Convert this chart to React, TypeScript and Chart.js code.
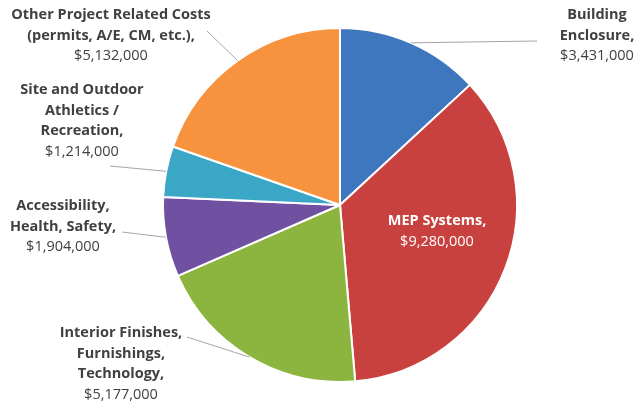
import React, { useEffect, useRef } from "react";
import { Chart, registerables } from "chart.js";

Chart.register(...registerables);

const categories: string[][] = [
  ["Building", "Enclosure,"],
  ["MEP Systems,"],
  ["Interior Finishes,", "Furnishings,", "Technology,"],
  ["Accessibility,", "Health, Safety,"],
  ["Site and Outdoor", "Athletics /", "Recreation,"],
  ["Other Project Related Costs", "(permits, A/E, CM, etc.),"],
];
const costs: number[] = [3431000, 9280000, 5177000, 1904000, 1214000, 5132000];
const sliceColors: string[] = ["#3F77BE", "#C8413E", "#8CB540", "#7050A0", "#3BA7C6", "#F7923F"];

// label layout: text center x, first line center y, leader anchor
const labelLayout = [
  { x: 597, y: 15, inside: false, ax: 537, ay: 41, color: "#404040" },
  { x: 437, y: 221, inside: true, ax: 0, ay: 0, color: "#FFFFFF" },
  { x: 121, y: 333, inside: false, ax: 187, ay: 337, color: "#404040" },
  { x: 63, y: 206, inside: false, ax: 122, ay: 232, color: "#404040" },
  { x: 82, y: 90, inside: false, ax: 110, ay: 166, color: "#404040" },
  { x: 111, y: 15, inside: false, ax: 207, ay: 31, color: "#404040" },
];

const FONT = "'Open Sans', Lato, sans-serif";
const LINE_H = 20.5;

const labelPlugin = {
  id: "pieLabels",
  afterDatasetsDraw(chart: any) {
    const ctx = chart.ctx;
    const meta = chart.getDatasetMeta(0);
    ctx.save();
    meta.data.forEach((arc: any, i: number) => {
      const lay = labelLayout[i];
      const { x, y, startAngle, endAngle, outerRadius } = arc.getProps(
        ["x", "y", "startAngle", "endAngle", "outerRadius"],
        true
      );
      if (!lay.inside) {
        const mid = (startAngle + endAngle) / 2;
        const px = x + Math.cos(mid) * outerRadius;
        const py = y + Math.sin(mid) * outerRadius;
        ctx.strokeStyle = "#A6A6A6";
        ctx.lineWidth = 1;
        ctx.beginPath();
        ctx.moveTo(lay.ax, lay.ay);
        ctx.lineTo(px, py);
        ctx.stroke();
      }
      const lines = categories[i];
      ctx.fillStyle = lay.color;
      ctx.textAlign = "center";
      ctx.textBaseline = "middle";
      lines.forEach((ln, k) => {
        ctx.font = `bold 14.5px ${FONT}`;
        ctx.fillText(ln, lay.x, lay.y + k * LINE_H);
      });
      ctx.font = `14.5px ${FONT}`;
      ctx.fillText("$" + costs[i].toLocaleString("en-US"), lay.x, lay.y + lines.length * LINE_H);
    });
    ctx.restore();
  },
};

export default function App() {
  const ref = useRef<HTMLCanvasElement>(null);
  useEffect(() => {
    if (!ref.current) return;
    const chart = new Chart(ref.current, {
      type: "pie",
      data: {
        labels: categories.map((c) => c.join(" ")),
        datasets: [
          {
            data: costs,
            backgroundColor: sliceColors,
            borderColor: "#FFFFFF",
            borderWidth: 2,
          },
        ],
      },
      options: {
        responsive: false,
        animation: false,
        layout: { padding: { left: 162, right: 122, top: 27, bottom: 19 } },
        plugins: { legend: { display: false }, tooltip: { enabled: false } },
      },
      plugins: [labelPlugin],
    });
    return () => chart.destroy();
  }, []);
  return (
    <div style={{ position: "absolute", left: 0, top: 0, width: 640, height: 402, background: "#fff" }}>
      <canvas ref={ref} width={640} height={402} />
    </div>
  );
}
